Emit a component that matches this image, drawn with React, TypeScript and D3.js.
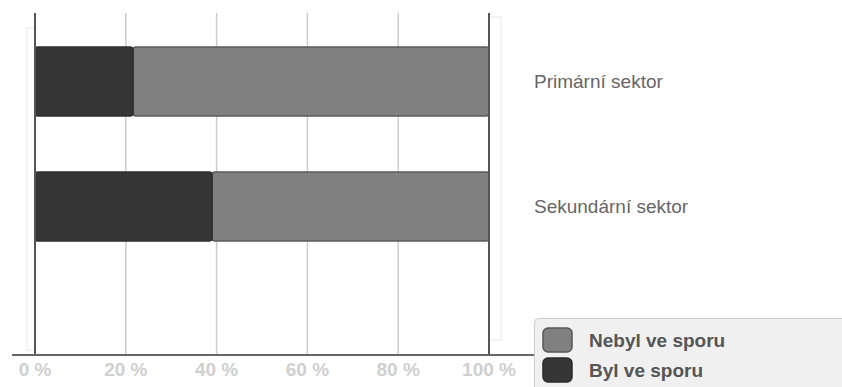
import React from "react";
import * as d3 from "d3";

// Share of firms that were / were not in a dispute, by sector (percent)
const categories = ["Primární sektor", "Sekundární sektor"];
const bylVeSporu = [21.6, 39];
const nebylVeSporu = [78.4, 61];
const seriesNames = ["Nebyl ve sporu", "Byl ve sporu"];
const tickValues = [0, 20, 40, 60, 80, 100];

const W = 842;
const H = 387;
const DARK = "#363636";
const MID = "#808080";

export default function App() {
  const x = d3.scaleLinear().domain([0, 100]).range([35, 489]);
  const y = d3
    .scaleBand<string>()
    .domain(categories)
    .range([19, 269])
    .paddingInner(0.448)
    .paddingOuter(0.224);

  const axisY = 355;
  const topY = 13;
  const font = "'Liberation Sans', Arial, sans-serif";

  const rows = categories.map((c, i) => ({
    c,
    byl: bylVeSporu[i],
    nebyl: nebylVeSporu[i],
  }));

  return (
    <svg
      width={W}
      height={H}
      style={{ position: "absolute", left: 0, top: 0, display: "block" }}
      fontFamily={font}
    >
      <rect width={W} height={H} fill="#fff" />

      {/* faint depth frame behind the plot */}
      <path
        d={`M${x(0)},28 H27 V350 H${x(0)}`}
        fill="none"
        stroke="#f0f0f0"
        strokeWidth={1.5}
      />
      <path
        d={`M${x(100)},17 H501 V340 H${x(100)}`}
        fill="none"
        stroke="#f0f0f0"
        strokeWidth={1.5}
      />

      {/* gridlines */}
      {tickValues.slice(1, -1).map((t) => (
        <line
          key={t}
          x1={x(t)}
          x2={x(t)}
          y1={topY}
          y2={axisY}
          stroke="#cccccc"
          strokeWidth={1.5}
        />
      ))}

      {/* bars */}
      {rows.map((r) => {
        const yy = y(r.c)!;
        const h = y.bandwidth();
        return (
          <g key={r.c}>
            <rect
              x={x(r.byl)}
              y={yy}
              width={x(r.byl + r.nebyl) - x(r.byl)}
              height={h}
              rx={3}
              fill={MID}
              stroke="#5a5a5a"
              strokeWidth={1.5}
            />
            <rect
              x={x(0)}
              y={yy}
              width={x(r.byl) - x(0)}
              height={h}
              rx={3}
              fill={DARK}
              stroke="#2e2e2e"
              strokeWidth={1.5}
            />
            <text
              x={534}
              y={yy + h / 2}
              dy="0.35em"
              fontSize={19}
              fill="#666"
            >
              {r.c}
            </text>
          </g>
        );
      })}

      {/* 0 % and 100 % frame lines */}
      <line x1={x(0)} x2={x(0)} y1={topY} y2={axisY} stroke="#555" strokeWidth={2} />
      <line x1={x(100)} x2={x(100)} y1={topY} y2={axisY} stroke="#555" strokeWidth={2} />

      {/* x axis */}
      <line x1={12} x2={536} y1={axisY} y2={axisY} stroke="#666" strokeWidth={2} />
      {tickValues.map((t) => (
        <text
          key={t}
          x={x(t)}
          y={369}
          dy="0.35em"
          textAnchor="middle"
          fontSize={19}
          fontWeight="bold"
          fill="#cfcfcf"
        >
          {`${t} %`}
        </text>
      ))}

      {/* legend */}
      <rect
        x={534.5}
        y={318.5}
        width={330}
        height={90}
        rx={4}
        fill="#f0f0f0"
        stroke="#cccccc"
      />
      {seriesNames.map((s, i) => (
        <g key={s}>
          <rect
            x={543}
            y={328 + i * 30}
            width={29}
            height={24}
            rx={5}
            fill={i === 0 ? MID : DARK}
            stroke={i === 0 ? "#555" : "#2a2a2a"}
            strokeWidth={1.5}
          />
          <text
            x={589}
            y={340 + i * 30}
            dy="0.35em"
            fontSize={19}
            fontWeight="bold"
            fill="#555"
          >
            {s}
          </text>
        </g>
      ))}
    </svg>
  );
}
